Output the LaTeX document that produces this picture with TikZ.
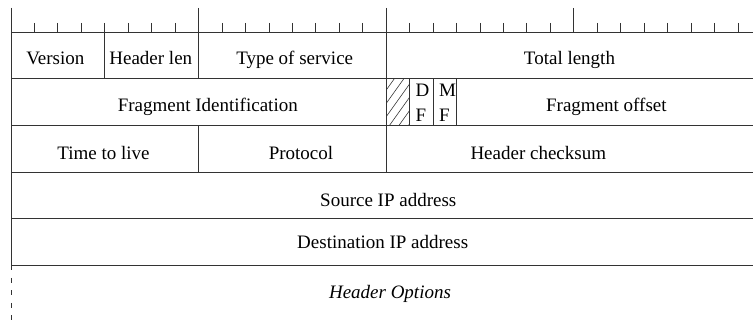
\documentclass[tikz,border=0pt]{standalone}
\usepackage{fontspec}
\setmainfont{Liberation Serif}
\begin{document}
\begin{tikzpicture}[x=1pt,y=-1pt,
  gridline/.style={line width=0.9pt, draw=black!80},
  lbl/.style={anchor=base, inner sep=0pt, font=\fontsize{19}{23}\selectfont},
  flag/.style={anchor=base west, inner sep=0pt, font=\fontsize{19}{23}\selectfont}]
\useasboundingbox (0,0) rectangle (753,320);
\clip (0,0) rectangle (753,320);
\def\bw{23.45}
% ruler ticks
\foreach \i in {1,...,31} {
  \draw[gridline] ({11+\bw*\i},23) -- ({11+\bw*\i},32);
}
\foreach \i in {0,8,16,24} {
  \draw[gridline] ({11+\bw*\i},8) -- ({11+\bw*\i},32);
}
% horizontal lines
\foreach \y in {32,78.5,125.3,172,218.7,265.5} {
  \draw[gridline] (11,\y) -- (775,\y);
}
% left border
\draw[gridline] (11,8) -- (11,265.5);
\draw[gridline, dash pattern=on 5pt off 7.5pt] (11,265.5) -- (11,320);
% row 1 verticals
\draw[gridline] ({11+\bw*4},32) -- ({11+\bw*4},78.5);
\draw[gridline] ({11+\bw*8},32) -- ({11+\bw*8},78.5);
\draw[gridline] ({11+\bw*16},32) -- ({11+\bw*16},172);
% row 2 verticals
\draw[gridline] ({11+\bw*17},78.5) -- ({11+\bw*17},125.3);
\draw[gridline] ({11+\bw*18},78.5) -- ({11+\bw*18},125.3);
\draw[gridline] ({11+\bw*19},78.5) -- ({11+\bw*19},125.3);
% row 3 verticals
\draw[gridline] ({11+\bw*8},125.3) -- ({11+\bw*8},172);
% hatch
\begin{scope}
  \clip ({11+\bw*16},78.5) rectangle ({11+\bw*17},125.3);
  \foreach \k in {-4,...,8} {
    \draw[line width=0.6pt, black!80] ({11+\bw*16+\k*9.5},130) -- ++(40,-56);
  }
\end{scope}
% labels
\node[lbl] (version) at (55.3,65) {Version};
\node[lbl] (hlen) at (150.8,65) {Header len};
\node[lbl] (tos) at (294.7,65) {Type of service};
\node[lbl] (tlen) at (569.5,65) {Total length};
\node[lbl] (fid) at (207.8,112) {Fragment Identification};
\node[flag] (d) at (415.5,96.5) {D};
\node[flag] (df) at (415.5,121.5) {F};
\node[flag] (m) at (439,96.5) {M};
\node[flag] (mf) at (439,121.5) {F};
\node[lbl] (foff) at (606.4,112) {Fragment offset};
\node[lbl] (ttl) at (103.5,159.3) {Time to live};
\node[lbl] (proto) at (301,159.3) {Protocol};
\node[lbl] (hcs) at (538.3,159.3) {Header checksum};
\node[lbl] (src) at (388.3,207) {Source IP address};
\node[lbl] (dst) at (382.7,248.7) {Destination IP address};
\node[lbl, font=\fontsize{19}{23}\selectfont\itshape] (opt) at (390,299) {Header Options};
\end{tikzpicture}
\end{document}
